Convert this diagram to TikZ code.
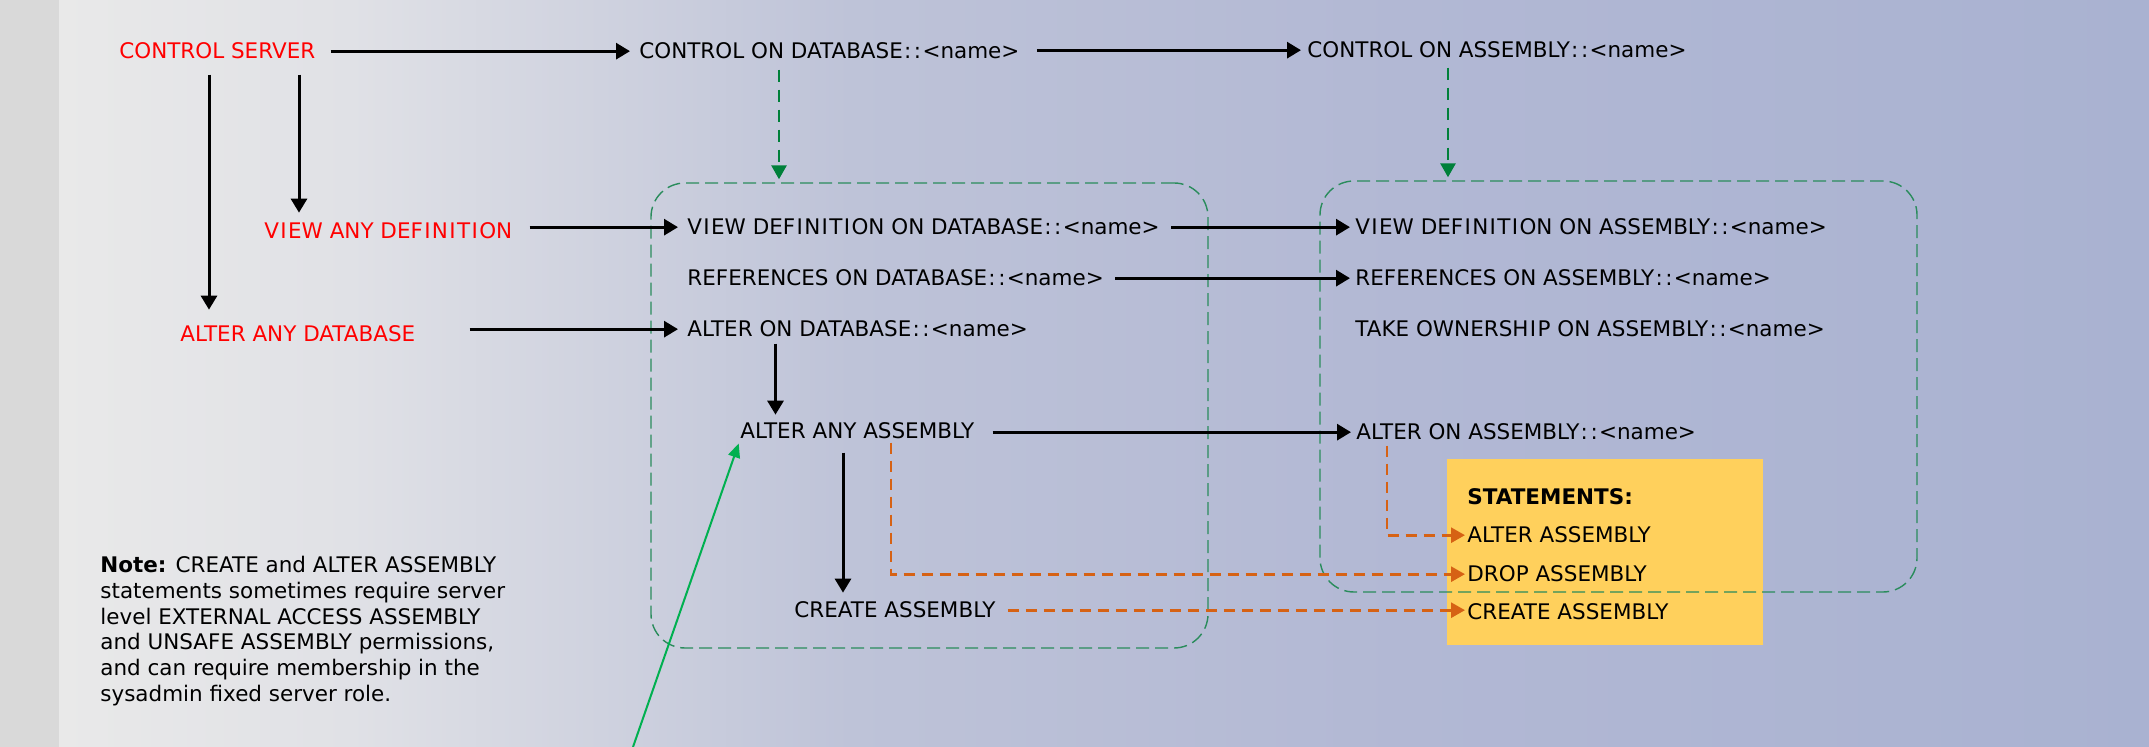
\documentclass[tikz,border=0pt]{standalone}
\usepackage{fontspec}
\setmainfont{DejaVu Sans}
\usetikzlibrary{arrows.meta,calc,fit}

\definecolor{stripgray}{RGB}{217,217,217}
\definecolor{bgA}{RGB}{233,233,233}
\definecolor{bgB}{RGB}{224,225,230}
\definecolor{bgC}{RGB}{190,195,216}
\definecolor{bgD}{RGB}{178,184,212}
\definecolor{bgE}{RGB}{169,178,209}
\definecolor{permred}{RGB}{255,0,0}
\definecolor{grpgreen}{RGB}{42,140,92}
\definecolor{inhgreen}{RGB}{0,128,58}
\definecolor{linkgreen}{RGB}{0,176,80}
\definecolor{stmtorange}{RGB}{214,98,20}
\definecolor{stmtyellow}{RGB}{255,208,92}

\newcommand\lblfont{\fontsize{10.74pt}{12.85pt}\selectfont}
% wide capital I and double colon, in the proportions of the label face
\newcommand\wI{\kern.063em I\kern.063em}
\newcommand\dcol{\kern.06em:\kern.12em:\kern.06em}

\begin{document}
\begin{tikzpicture}[x=0.5pt,y=-0.5pt,
  lbl/.style={anchor=base west, inner sep=0pt, font=\lblfont, text=black},
  srvlbl/.style={lbl, text=permred},
  arr/.style={draw=black, line width=1.5pt, -{Triangle[length=7pt,width=8pt]},
              shorten <=7.5pt, shorten >=4.5pt},
  grp/.style={draw=grpgreen, line width=0.7pt, dash pattern=on 6.5pt off 3pt,
              rounded corners=17pt, inner sep=0pt},
  inharr/.style={draw=inhgreen, line width=1.4pt, dash pattern=on 6pt off 4pt,
              -{Triangle[length=7pt,width=7.5pt]}},
  stmtarr/.style={draw=stmtorange, line width=1.4pt, dash pattern=on 5.5pt off 3.5pt,
              -{Triangle[length=7pt,width=7.5pt]}},
  linkarr/.style={draw=linkgreen, line width=1pt, -{Triangle[length=7pt,width=6pt]}}
]
% page and background
\useasboundingbox (0,0) rectangle (2149,747);
\fill[stripgray] (0,0) rectangle (59,747);
\shade[left color=bgA, right color=bgB] (59,0) rectangle (351,747);
\shade[left color=bgB, right color=bgC] (350,0) rectangle (851,747);
\shade[left color=bgC, right color=bgD] (850,0) rectangle (1401,747);
\shade[left color=bgD, right color=bgE] (1400,0) rectangle (2149,747);

% statements panel
\node[fill=stmtyellow, inner sep=0pt, fit={(1447,459) (1763,645)}] (panel) {};

% permission groups
\node[grp, fit={(651,183) (1208,648)}] (gdb) {};
\node[grp, fit={(1320,181) (1917,592)}] (gas) {};

% permissions
\node[srvlbl] (cs)  at (119,59)  {CONTROL SERVER};
\node[lbl]    (cdb) at (639,59)  {CONTROL ON DATABASE\dcol<name>};
\node[lbl]    (cas) at (1307,58) {CONTROL ON ASSEMBLY\dcol<name>};
\node[srvlbl] (vad) at (264,239) {V\wI EW ANY DEF\wI N\wI T\wI ON};
\node[srvlbl] (aad) at (180,342) {ALTER ANY DATABASE};
\node[lbl]    (vdd) at (687,235) {V\wI EW DEF\wI N\wI T\wI ON ON DATABASE\dcol<name>};
\node[lbl]    (rdd) at (687,286) {REFERENCES ON DATABASE\dcol<name>};
\node[lbl]    (add) at (687,337) {ALTER ON DATABASE\dcol<name>};
\node[lbl]    (vda) at (1355,235) {V\wI EW DEF\wI N\wI T\wI ON ON ASSEMBLY\dcol<name>};
\node[lbl]    (rda) at (1355,286) {REFERENCES ON ASSEMBLY\dcol<name>};
\node[lbl]    (toa) at (1355,337) {TAKE OWNERSH\wI P ON ASSEMBLY\dcol<name>};
\node[lbl]    (aaa) at (740,439) {ALTER ANY ASSEMBLY};
\node[lbl]    (aoa) at (1356,440) {ALTER ON ASSEMBLY\dcol<name>};
\node[lbl]    (ca)  at (794,618) {CREATE ASSEMBLY};

% statements
\node[lbl, font=\lblfont\bfseries] (st) at (1467,505) {STATEMENTS:};
\node[lbl] (sa) at (1467,543) {ALTER ASSEMBLY};
\node[lbl] (sd) at (1467,582) {DROP ASSEMBLY};
\node[lbl] (sc) at (1467,620) {CREATE ASSEMBLY};

% note
\node[anchor=north west, inner sep=0pt, align=left, font=\lblfont] (note) at (100,556)
  {\textbf{Note:} CREATE and ALTER ASSEMBLY\\
   statements sometimes require server\\
   level EXTERNAL ACCESS ASSEMBLY\\
   and UNSAFE ASSEMBLY permissions,\\
   and can require membership in the\\
   sysadmin fixed server role.};

% horizontal implications
\draw[arr] (cs.east |- cdb.west) -- (cdb.west);
\draw[arr, shorten <=8.5pt, shorten >=3pt] (cdb.east |- cas.west) -- (cas.west);
\draw[arr, shorten <=8.5pt] (vad.east |- vdd.west) -- (vdd.west);
\draw[arr, shorten <=27pt] (aad.east |- add.west) -- (add.west);
\draw[arr, shorten <=5.5pt, shorten >=2.5pt] (vdd.east |- vda.west) -- (vda.west);
\draw[arr, shorten <=5.5pt, shorten >=2.5pt] (rdd.east |- rda.west) -- (rda.west);
\draw[arr, shorten <=9pt, shorten >=2.5pt] (aaa.east |- aoa.west) -- (aoa.west);

% vertical implications
\coordinate (csA) at ($(cs.south west)+(90,0)$);
\coordinate (csV) at ($(cs.south west)+(180,0)$);
\coordinate (addA) at ($(add.south west)+(88.5,0)$);
\coordinate (aaaC) at ($(aaa.south west)+(103,0)$);
\draw[arr, shorten >=8pt] (csA) -- (csA |- aad.north);
\draw[arr, shorten >=5pt] (csV) -- (csV |- vad.north);
\draw[arr, shorten <=3pt, shorten >=4pt] (addA) -- (addA |- aaa.north);
\draw[arr, shorten <=6.5pt, shorten >=4.5pt] (aaaC) -- (aaaC |- ca.north);

% control covers the whole group
\coordinate (cdbG) at ($(cdb.south west)+(140,0)$);
\coordinate (casG) at ($(cas.south west)+(141,0)$);
\draw[inharr, shorten <=5pt, shorten >=1.5pt] (cdbG) -- (cdbG |- gdb.north);
\draw[inharr, shorten <=4.5pt, shorten >=1.5pt] (casG) -- (casG |- gas.north);

% permissions to statements
\coordinate (aaaS) at ($(aaa.south west)+(151,0)$);
\coordinate (aoaS) at ($(aoa.south west)+(31,0)$);
\draw[stmtarr, shorten <=1.5pt, shorten >=1pt] (aaaS) |- (sd.west);
\draw[stmtarr, shorten <=2.5pt, shorten >=1pt] (aoaS) |- (sa.west);
\draw[stmtarr, shorten <=6pt, shorten >=1pt] (ca.east) -- (ca.east -| sc.west);

% link from below
\coordinate (linkfoot) at (633,747);
\draw[linkarr, shorten >=2pt] (linkfoot) -- (aaa.south west);
\end{tikzpicture}
\end{document}
